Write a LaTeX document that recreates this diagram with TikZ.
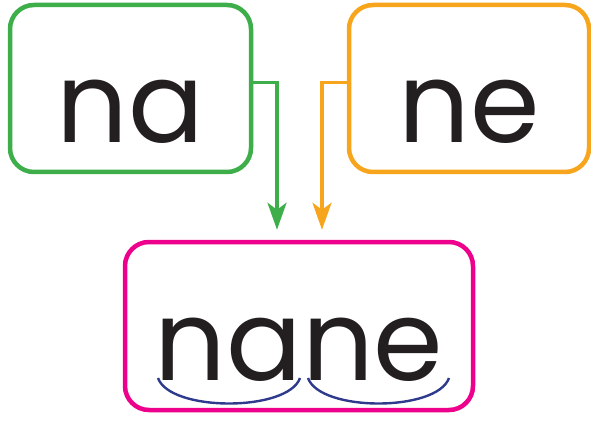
\documentclass[tikz,border=0pt]{standalone}
\usepackage{fontspec}
\setmainfont{Poppins}
\usetikzlibrary{arrows.meta}
\definecolor{sylgreen}{HTML}{3DAE49}
\definecolor{sylorange}{HTML}{F7A51C}
\definecolor{sylpink}{HTML}{EC008C}
\definecolor{sylblue}{HTML}{2E3A8C}
\definecolor{ink}{HTML}{231F20}
\begin{document}
\begin{tikzpicture}[x = 1pt, y = -1pt,
	syl/.style = {draw = #1, line width = 4.5pt, rounded corners = 24pt, inner sep = 0pt,
		text = ink, font = \fontsize{112}{114}\selectfont,
		text height = 138pt, text depth = 29pt},
	link/.style = {line width = 3.5pt, -{Stealth[length = 27pt, width = 19pt, inset = 7pt]}},
	bow/.style = {sylblue, line width = 2.4pt}]
	\useasboundingbox (0,0) rectangle (591,422);
	\node [syl = sylgreen, minimum width = 241pt] (na) at (130.5,88.5) {na};
	\node [syl = sylorange, minimum width = 240pt] (ne) at (469,88.5) {ne};
	\node [syl = sylpink, minimum width = 348pt, text depth = 30pt] (nane) at (299,326) {nane};
	\coordinate (gtip) at ([xshift = -22pt, yshift = 10pt]nane.north);
	\coordinate (otip) at ([xshift = 23pt, yshift = 10pt]nane.north);
	\draw [link, sylgreen] ([yshift = 6pt]na.east) -| (gtip);
	\draw [link, sylorange] ([yshift = 6pt]ne.west) -| (otip);
	\draw [bow] (158,378) .. controls (170,412) and (288,412) .. (300,378);
	\draw [bow] (308,378) .. controls (320,412) and (437,412) .. (449,378);
\end{tikzpicture}
\end{document}
